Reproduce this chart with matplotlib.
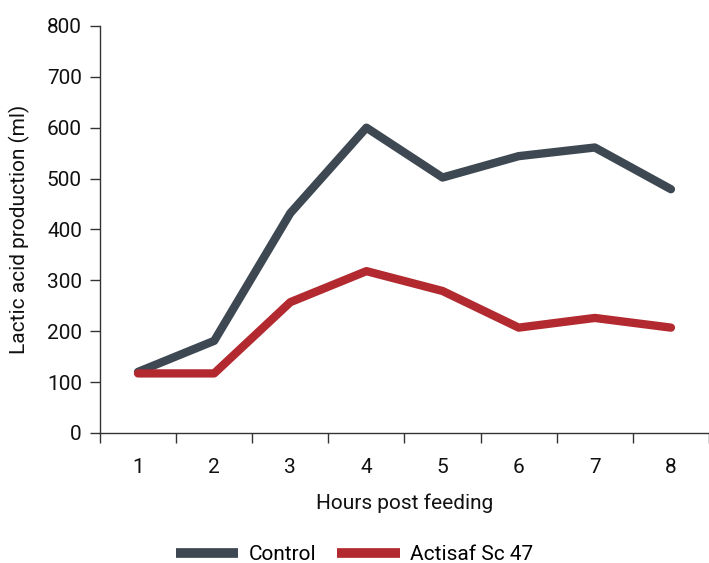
import matplotlib.pyplot as plt
import numpy as np

plt.rcParams['font.family'] = ['Roboto', 'DejaVu Sans']

hours = [1, 2, 3, 4, 5, 6, 7, 8]
control = [120, 181, 432, 600, 502, 544, 561, 479]
actisaf = [117, 117, 257, 318, 279, 207, 226, 207]

dark = '#3d4853'
red = '#b22a30'
axis_col = '#333333'
txt = '#111111'

fig = plt.figure(figsize=(7.09, 5.63), dpi=100)
ax = fig.add_axes([0.141, 0.231, 0.859, 0.723])

ax.plot(hours, control, color=dark, lw=6, solid_capstyle='round', label='Control')
ax.plot(hours, actisaf, color=red, lw=6, solid_capstyle='round', label='Actisaf Sc 47')

ax.set_xlim(0.5, 8.5)
ax.set_ylim(0, 800)
ax.set_yticks(np.arange(0, 801, 100))

# category axis: ticks on the boundaries, labels in the middle
ax.set_xticks(np.arange(0.5, 8.6, 1))
ax.set_xticklabels([])
ax.set_xticks(hours, minor=True)
ax.set_xticklabels([str(h) for h in hours], minor=True)
ax.tick_params(axis='x', which='major', length=7, width=1, color=axis_col, direction='out')
ax.tick_params(axis='x', which='minor', length=0, pad=18, labelsize=15, labelcolor=txt)
ax.tick_params(axis='y', length=7, width=1, color=axis_col, labelsize=15, labelcolor=txt, pad=6)

for s in ['top', 'right']:
    ax.spines[s].set_visible(False)
for s in ['left', 'bottom']:
    ax.spines[s].set_color(axis_col)
    ax.spines[s].set_linewidth(1)

ax.set_xlabel('Hours post feeding', fontsize=15, color=txt, labelpad=12)
ax.set_ylabel('Lactic acid production (ml)', fontsize=15, color=txt, labelpad=12)

leg = fig.legend(loc='lower center', bbox_to_anchor=(0.5, -0.035), ncol=2, frameon=False,
                 fontsize=15, handlelength=3.0, columnspacing=1.0, handletextpad=0.5)
for line in leg.get_lines():
    line.set_linewidth(7)
    line.set_solid_capstyle('butt')

fig.savefig('out.png', dpi=100)
